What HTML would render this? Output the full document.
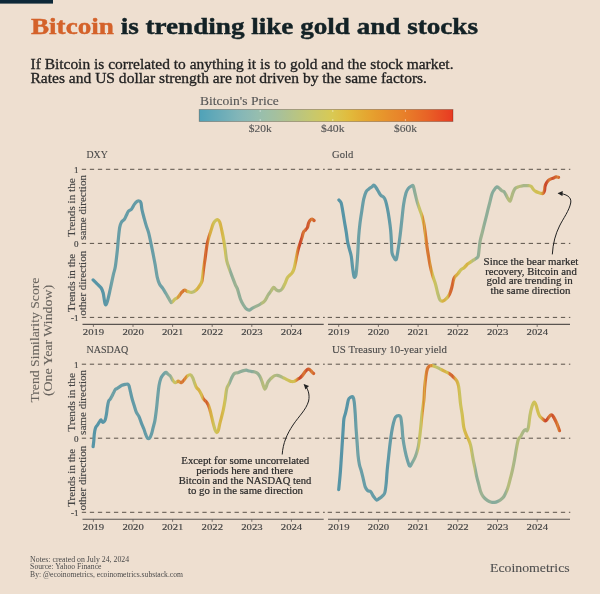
<!DOCTYPE html>
<html><head><meta charset="utf-8">
<style>
html,body{margin:0;padding:0;background:#eedfd0;}
body{width:600px;height:594px;overflow:hidden;}
svg{display:block;}
text{font-family:"Liberation Serif",serif;}
</style></head>
<body>
<svg width="600" height="594" viewBox="0 0 600 594">
<defs>
<linearGradient id="leg" x1="0" y1="0" x2="1" y2="0"><stop offset="0.000" stop-color="#4fa2b8"/><stop offset="0.025" stop-color="#57a5b8"/><stop offset="0.050" stop-color="#60a8b8"/><stop offset="0.075" stop-color="#68abb8"/><stop offset="0.100" stop-color="#70aeb8"/><stop offset="0.125" stop-color="#78b2b8"/><stop offset="0.150" stop-color="#81b5b8"/><stop offset="0.175" stop-color="#88b8b6"/><stop offset="0.200" stop-color="#8ebab3"/><stop offset="0.225" stop-color="#94bdb0"/><stop offset="0.250" stop-color="#9abfab"/><stop offset="0.275" stop-color="#9fc0a5"/><stop offset="0.300" stop-color="#a4c09f"/><stop offset="0.325" stop-color="#aac197"/><stop offset="0.350" stop-color="#b0c28e"/><stop offset="0.375" stop-color="#b6c486"/><stop offset="0.400" stop-color="#bcc57d"/><stop offset="0.425" stop-color="#c2c775"/><stop offset="0.450" stop-color="#c8c86c"/><stop offset="0.475" stop-color="#cec864"/><stop offset="0.500" stop-color="#d3c95c"/><stop offset="0.525" stop-color="#d9c953"/><stop offset="0.550" stop-color="#dcc34b"/><stop offset="0.575" stop-color="#dfbe42"/><stop offset="0.600" stop-color="#e2b83a"/><stop offset="0.625" stop-color="#e3b036"/><stop offset="0.650" stop-color="#e4a932"/><stop offset="0.675" stop-color="#e6a22f"/><stop offset="0.700" stop-color="#e69b2d"/><stop offset="0.725" stop-color="#e7952c"/><stop offset="0.750" stop-color="#e78e2c"/><stop offset="0.775" stop-color="#e8882b"/><stop offset="0.800" stop-color="#e8822a"/><stop offset="0.825" stop-color="#e87a29"/><stop offset="0.850" stop-color="#e87228"/><stop offset="0.875" stop-color="#e86a27"/><stop offset="0.900" stop-color="#e86226"/><stop offset="0.925" stop-color="#e85825"/><stop offset="0.950" stop-color="#e84e24"/><stop offset="0.975" stop-color="#e84423"/><stop offset="1.000" stop-color="#e83a22"/></linearGradient>
<linearGradient id="gl" gradientUnits="userSpaceOnUse" x1="82.0" y1="0" x2="324.0" y2="0"><stop offset="0.0000" stop-color="#5795a6"/><stop offset="0.0025" stop-color="#5795a6"/><stop offset="0.0050" stop-color="#5795a6"/><stop offset="0.0075" stop-color="#5795a6"/><stop offset="0.0100" stop-color="#5795a6"/><stop offset="0.0125" stop-color="#5795a6"/><stop offset="0.0150" stop-color="#5795a6"/><stop offset="0.0175" stop-color="#5795a6"/><stop offset="0.0200" stop-color="#5795a6"/><stop offset="0.0225" stop-color="#5795a6"/><stop offset="0.0250" stop-color="#5795a6"/><stop offset="0.0275" stop-color="#5795a6"/><stop offset="0.0300" stop-color="#5795a6"/><stop offset="0.0325" stop-color="#5795a6"/><stop offset="0.0350" stop-color="#5795a6"/><stop offset="0.0375" stop-color="#5795a6"/><stop offset="0.0400" stop-color="#5795a6"/><stop offset="0.0425" stop-color="#5795a6"/><stop offset="0.0450" stop-color="#5795a6"/><stop offset="0.0475" stop-color="#5795a6"/><stop offset="0.0500" stop-color="#5795a6"/><stop offset="0.0525" stop-color="#5795a6"/><stop offset="0.0550" stop-color="#5795a6"/><stop offset="0.0575" stop-color="#5794a6"/><stop offset="0.0600" stop-color="#5794a6"/><stop offset="0.0625" stop-color="#5794a6"/><stop offset="0.0650" stop-color="#5795a6"/><stop offset="0.0675" stop-color="#5795a6"/><stop offset="0.0700" stop-color="#5895a6"/><stop offset="0.0725" stop-color="#5895a6"/><stop offset="0.0750" stop-color="#5895a6"/><stop offset="0.0775" stop-color="#5895a6"/><stop offset="0.0800" stop-color="#5895a6"/><stop offset="0.0825" stop-color="#5895a6"/><stop offset="0.0850" stop-color="#5895a6"/><stop offset="0.0875" stop-color="#5995a6"/><stop offset="0.0900" stop-color="#5996a6"/><stop offset="0.0925" stop-color="#5a96a6"/><stop offset="0.0950" stop-color="#5b96a6"/><stop offset="0.0975" stop-color="#5b97a6"/><stop offset="0.1000" stop-color="#5c97a6"/><stop offset="0.1025" stop-color="#5e98a6"/><stop offset="0.1050" stop-color="#5f99a6"/><stop offset="0.1075" stop-color="#6199a6"/><stop offset="0.1100" stop-color="#639aa6"/><stop offset="0.1125" stop-color="#649ba6"/><stop offset="0.1150" stop-color="#669ca6"/><stop offset="0.1175" stop-color="#699da6"/><stop offset="0.1200" stop-color="#6d9fa5"/><stop offset="0.1225" stop-color="#71a2a5"/><stop offset="0.1250" stop-color="#76a4a4"/><stop offset="0.1275" stop-color="#6ea0a5"/><stop offset="0.1300" stop-color="#6c9fa6"/><stop offset="0.1325" stop-color="#6c9fa6"/><stop offset="0.1350" stop-color="#6b9fa6"/><stop offset="0.1375" stop-color="#6b9ea6"/><stop offset="0.1400" stop-color="#6a9ea6"/><stop offset="0.1425" stop-color="#6a9ea6"/><stop offset="0.1450" stop-color="#699ea6"/><stop offset="0.1475" stop-color="#699ea6"/><stop offset="0.1500" stop-color="#699da6"/><stop offset="0.1525" stop-color="#699da6"/><stop offset="0.1550" stop-color="#689da6"/><stop offset="0.1575" stop-color="#689da6"/><stop offset="0.1600" stop-color="#679da6"/><stop offset="0.1625" stop-color="#669ca6"/><stop offset="0.1650" stop-color="#669ca6"/><stop offset="0.1675" stop-color="#659ba6"/><stop offset="0.1700" stop-color="#659ba6"/><stop offset="0.1725" stop-color="#659ca6"/><stop offset="0.1750" stop-color="#669ca6"/><stop offset="0.1775" stop-color="#669ca6"/><stop offset="0.1800" stop-color="#679ca6"/><stop offset="0.1825" stop-color="#679da6"/><stop offset="0.1850" stop-color="#669ca6"/><stop offset="0.1875" stop-color="#669ca6"/><stop offset="0.1900" stop-color="#659ba6"/><stop offset="0.1925" stop-color="#649ba6"/><stop offset="0.1950" stop-color="#639ba6"/><stop offset="0.1975" stop-color="#629aa6"/><stop offset="0.2000" stop-color="#629aa6"/><stop offset="0.2025" stop-color="#629aa6"/><stop offset="0.2050" stop-color="#629aa6"/><stop offset="0.2075" stop-color="#629aa6"/><stop offset="0.2100" stop-color="#619aa6"/><stop offset="0.2125" stop-color="#629aa6"/><stop offset="0.2150" stop-color="#649ba6"/><stop offset="0.2175" stop-color="#659ba6"/><stop offset="0.2200" stop-color="#669ca6"/><stop offset="0.2225" stop-color="#679ca6"/><stop offset="0.2250" stop-color="#689da6"/><stop offset="0.2275" stop-color="#699ea6"/><stop offset="0.2300" stop-color="#6a9ea6"/><stop offset="0.2325" stop-color="#699da6"/><stop offset="0.2350" stop-color="#679ca6"/><stop offset="0.2375" stop-color="#659ba6"/><stop offset="0.2400" stop-color="#6099a6"/><stop offset="0.2425" stop-color="#5b97a6"/><stop offset="0.2450" stop-color="#5c97a6"/><stop offset="0.2475" stop-color="#5e98a6"/><stop offset="0.2500" stop-color="#5f98a6"/><stop offset="0.2525" stop-color="#6099a6"/><stop offset="0.2550" stop-color="#619aa6"/><stop offset="0.2575" stop-color="#629aa6"/><stop offset="0.2600" stop-color="#639ba6"/><stop offset="0.2625" stop-color="#659ba6"/><stop offset="0.2650" stop-color="#669ca6"/><stop offset="0.2675" stop-color="#669ca6"/><stop offset="0.2700" stop-color="#669ca6"/><stop offset="0.2725" stop-color="#679ca6"/><stop offset="0.2750" stop-color="#679da6"/><stop offset="0.2775" stop-color="#689da6"/><stop offset="0.2800" stop-color="#689da6"/><stop offset="0.2825" stop-color="#689da6"/><stop offset="0.2850" stop-color="#679da6"/><stop offset="0.2875" stop-color="#679da6"/><stop offset="0.2900" stop-color="#679da6"/><stop offset="0.2925" stop-color="#679da6"/><stop offset="0.2950" stop-color="#689da6"/><stop offset="0.2975" stop-color="#6a9ea6"/><stop offset="0.3000" stop-color="#6b9fa6"/><stop offset="0.3025" stop-color="#6da0a5"/><stop offset="0.3050" stop-color="#6fa1a5"/><stop offset="0.3075" stop-color="#70a1a5"/><stop offset="0.3100" stop-color="#70a1a5"/><stop offset="0.3125" stop-color="#70a1a5"/><stop offset="0.3150" stop-color="#70a1a5"/><stop offset="0.3175" stop-color="#71a1a5"/><stop offset="0.3200" stop-color="#71a1a5"/><stop offset="0.3225" stop-color="#70a1a5"/><stop offset="0.3250" stop-color="#6fa1a5"/><stop offset="0.3275" stop-color="#6fa0a5"/><stop offset="0.3300" stop-color="#6ea0a5"/><stop offset="0.3325" stop-color="#6da0a5"/><stop offset="0.3350" stop-color="#6fa1a5"/><stop offset="0.3375" stop-color="#72a2a4"/><stop offset="0.3400" stop-color="#74a3a4"/><stop offset="0.3425" stop-color="#77a4a3"/><stop offset="0.3450" stop-color="#79a6a3"/><stop offset="0.3475" stop-color="#7da7a2"/><stop offset="0.3500" stop-color="#81a9a0"/><stop offset="0.3525" stop-color="#85aa9d"/><stop offset="0.3550" stop-color="#89ab9a"/><stop offset="0.3575" stop-color="#8cac99"/><stop offset="0.3600" stop-color="#8fad97"/><stop offset="0.3625" stop-color="#90ae97"/><stop offset="0.3650" stop-color="#92ae96"/><stop offset="0.3675" stop-color="#94af95"/><stop offset="0.3700" stop-color="#9fb390"/><stop offset="0.3725" stop-color="#aab786"/><stop offset="0.3750" stop-color="#bebf70"/><stop offset="0.3775" stop-color="#d0c157"/><stop offset="0.3800" stop-color="#ccc15c"/><stop offset="0.3825" stop-color="#c7c264"/><stop offset="0.3850" stop-color="#c1c06c"/><stop offset="0.3875" stop-color="#c5c168"/><stop offset="0.3900" stop-color="#d1c055"/><stop offset="0.3925" stop-color="#d8ad44"/><stop offset="0.3950" stop-color="#da993c"/><stop offset="0.3975" stop-color="#d98637"/><stop offset="0.4000" stop-color="#d8af44"/><stop offset="0.4025" stop-color="#daa23f"/><stop offset="0.4050" stop-color="#d88536"/><stop offset="0.4075" stop-color="#d77633"/><stop offset="0.4100" stop-color="#d77833"/><stop offset="0.4125" stop-color="#d87b34"/><stop offset="0.4150" stop-color="#d87c34"/><stop offset="0.4175" stop-color="#d67332"/><stop offset="0.4200" stop-color="#d46b31"/><stop offset="0.4225" stop-color="#d87e35"/><stop offset="0.4250" stop-color="#da9f3e"/><stop offset="0.4275" stop-color="#d98938"/><stop offset="0.4300" stop-color="#d98f39"/><stop offset="0.4325" stop-color="#da9e3e"/><stop offset="0.4350" stop-color="#d4bc4e"/><stop offset="0.4375" stop-color="#ccc15c"/><stop offset="0.4400" stop-color="#ccc15c"/><stop offset="0.4425" stop-color="#cbc15d"/><stop offset="0.4450" stop-color="#c9c261"/><stop offset="0.4475" stop-color="#c7c264"/><stop offset="0.4500" stop-color="#c4c168"/><stop offset="0.4525" stop-color="#bfbf6e"/><stop offset="0.4550" stop-color="#bdbf70"/><stop offset="0.4575" stop-color="#bcbe73"/><stop offset="0.4600" stop-color="#babd75"/><stop offset="0.4625" stop-color="#b8bc77"/><stop offset="0.4650" stop-color="#bfbf6e"/><stop offset="0.4675" stop-color="#cdc15b"/><stop offset="0.4700" stop-color="#d3bd4f"/><stop offset="0.4725" stop-color="#d5b94a"/><stop offset="0.4750" stop-color="#d7b245"/><stop offset="0.4775" stop-color="#d7b045"/><stop offset="0.4800" stop-color="#d7b045"/><stop offset="0.4825" stop-color="#d7b045"/><stop offset="0.4850" stop-color="#d7b045"/><stop offset="0.4875" stop-color="#d6b647"/><stop offset="0.4900" stop-color="#d4bb4d"/><stop offset="0.4925" stop-color="#d2bf52"/><stop offset="0.4950" stop-color="#d3bc4e"/><stop offset="0.4975" stop-color="#d7b346"/><stop offset="0.5000" stop-color="#da983c"/><stop offset="0.5025" stop-color="#d87e34"/><stop offset="0.5050" stop-color="#d36530"/><stop offset="0.5075" stop-color="#d46830"/><stop offset="0.5100" stop-color="#d67232"/><stop offset="0.5125" stop-color="#d36630"/><stop offset="0.5150" stop-color="#d0592e"/><stop offset="0.5175" stop-color="#d36630"/><stop offset="0.5200" stop-color="#d67232"/><stop offset="0.5225" stop-color="#d87e35"/><stop offset="0.5250" stop-color="#da9c3d"/><stop offset="0.5275" stop-color="#d8a942"/><stop offset="0.5300" stop-color="#d8ac43"/><stop offset="0.5325" stop-color="#d8ae44"/><stop offset="0.5350" stop-color="#d7b045"/><stop offset="0.5375" stop-color="#d7b346"/><stop offset="0.5400" stop-color="#d4ba4c"/><stop offset="0.5425" stop-color="#d1bf53"/><stop offset="0.5450" stop-color="#cdc15a"/><stop offset="0.5475" stop-color="#c9c261"/><stop offset="0.5500" stop-color="#cbc25e"/><stop offset="0.5525" stop-color="#cfc158"/><stop offset="0.5550" stop-color="#d0c155"/><stop offset="0.5575" stop-color="#d1bf53"/><stop offset="0.5600" stop-color="#d2be51"/><stop offset="0.5625" stop-color="#d3bc4e"/><stop offset="0.5650" stop-color="#d4bb4c"/><stop offset="0.5675" stop-color="#d5b94a"/><stop offset="0.5700" stop-color="#d6b848"/><stop offset="0.5725" stop-color="#d6b547"/><stop offset="0.5750" stop-color="#d7b246"/><stop offset="0.5775" stop-color="#d7b246"/><stop offset="0.5800" stop-color="#d6b849"/><stop offset="0.5825" stop-color="#d4bb4d"/><stop offset="0.5850" stop-color="#d2bd50"/><stop offset="0.5875" stop-color="#d1c054"/><stop offset="0.5900" stop-color="#cfc158"/><stop offset="0.5925" stop-color="#cac25f"/><stop offset="0.5950" stop-color="#c0bf6e"/><stop offset="0.5975" stop-color="#b3ba7d"/><stop offset="0.6000" stop-color="#b7bc78"/><stop offset="0.6025" stop-color="#bbbd74"/><stop offset="0.6050" stop-color="#bfbf6f"/><stop offset="0.6075" stop-color="#afb981"/><stop offset="0.6100" stop-color="#a0b38f"/><stop offset="0.6125" stop-color="#91ae96"/><stop offset="0.6150" stop-color="#8ead98"/><stop offset="0.6175" stop-color="#8fad97"/><stop offset="0.6200" stop-color="#90ae97"/><stop offset="0.6225" stop-color="#92ae96"/><stop offset="0.6250" stop-color="#95af95"/><stop offset="0.6275" stop-color="#97b093"/><stop offset="0.6300" stop-color="#99b192"/><stop offset="0.6325" stop-color="#9cb291"/><stop offset="0.6350" stop-color="#9db291"/><stop offset="0.6375" stop-color="#9eb290"/><stop offset="0.6400" stop-color="#9db290"/><stop offset="0.6425" stop-color="#98b093"/><stop offset="0.6450" stop-color="#93ae96"/><stop offset="0.6475" stop-color="#90ad97"/><stop offset="0.6500" stop-color="#90ad97"/><stop offset="0.6525" stop-color="#8fad97"/><stop offset="0.6550" stop-color="#8fad97"/><stop offset="0.6575" stop-color="#8fad97"/><stop offset="0.6600" stop-color="#8ead97"/><stop offset="0.6625" stop-color="#8fad97"/><stop offset="0.6650" stop-color="#8fad97"/><stop offset="0.6675" stop-color="#90ad97"/><stop offset="0.6700" stop-color="#91ae97"/><stop offset="0.6725" stop-color="#91ae96"/><stop offset="0.6750" stop-color="#8ead98"/><stop offset="0.6775" stop-color="#85aa9c"/><stop offset="0.6800" stop-color="#85aa9d"/><stop offset="0.6825" stop-color="#86aa9c"/><stop offset="0.6850" stop-color="#87ab9b"/><stop offset="0.6875" stop-color="#88ab9a"/><stop offset="0.6900" stop-color="#88ab9a"/><stop offset="0.6925" stop-color="#87ab9b"/><stop offset="0.6950" stop-color="#87ab9b"/><stop offset="0.6975" stop-color="#86aa9b"/><stop offset="0.7000" stop-color="#86aa9c"/><stop offset="0.7025" stop-color="#88ab9a"/><stop offset="0.7050" stop-color="#8bac99"/><stop offset="0.7075" stop-color="#8fad97"/><stop offset="0.7100" stop-color="#92ae96"/><stop offset="0.7125" stop-color="#97b094"/><stop offset="0.7150" stop-color="#9bb191"/><stop offset="0.7175" stop-color="#9bb191"/><stop offset="0.7200" stop-color="#9bb191"/><stop offset="0.7225" stop-color="#9bb191"/><stop offset="0.7250" stop-color="#9bb191"/><stop offset="0.7275" stop-color="#9bb191"/><stop offset="0.7300" stop-color="#95af94"/><stop offset="0.7325" stop-color="#91ae96"/><stop offset="0.7350" stop-color="#99b192"/><stop offset="0.7375" stop-color="#a2b48e"/><stop offset="0.7400" stop-color="#abb785"/><stop offset="0.7425" stop-color="#b1ba7f"/><stop offset="0.7450" stop-color="#b5bb7b"/><stop offset="0.7475" stop-color="#b8bd76"/><stop offset="0.7500" stop-color="#b7bc78"/><stop offset="0.7525" stop-color="#b5bb7b"/><stop offset="0.7550" stop-color="#b3ba7d"/><stop offset="0.7575" stop-color="#b1ba7f"/><stop offset="0.7600" stop-color="#b0b980"/><stop offset="0.7625" stop-color="#aeb982"/><stop offset="0.7650" stop-color="#adb883"/><stop offset="0.7675" stop-color="#acb884"/><stop offset="0.7700" stop-color="#a9b787"/><stop offset="0.7725" stop-color="#a6b68a"/><stop offset="0.7750" stop-color="#a3b48d"/><stop offset="0.7775" stop-color="#a9b687"/><stop offset="0.7800" stop-color="#b0b980"/><stop offset="0.7825" stop-color="#b9bd76"/><stop offset="0.7850" stop-color="#b8bc77"/><stop offset="0.7875" stop-color="#b7bc79"/><stop offset="0.7900" stop-color="#b5bb7a"/><stop offset="0.7925" stop-color="#b4bb7b"/><stop offset="0.7950" stop-color="#b3ba7d"/><stop offset="0.7975" stop-color="#b1ba7f"/><stop offset="0.8000" stop-color="#afb981"/><stop offset="0.8025" stop-color="#adb883"/><stop offset="0.8050" stop-color="#abb785"/><stop offset="0.8075" stop-color="#a9b687"/><stop offset="0.8100" stop-color="#a6b68a"/><stop offset="0.8125" stop-color="#a7b689"/><stop offset="0.8150" stop-color="#a8b688"/><stop offset="0.8175" stop-color="#a8b688"/><stop offset="0.8200" stop-color="#a9b787"/><stop offset="0.8225" stop-color="#aab786"/><stop offset="0.8250" stop-color="#adb883"/><stop offset="0.8275" stop-color="#b3ba7d"/><stop offset="0.8300" stop-color="#b9bd75"/><stop offset="0.8325" stop-color="#c0c06d"/><stop offset="0.8350" stop-color="#c6c266"/><stop offset="0.8375" stop-color="#c8c262"/><stop offset="0.8400" stop-color="#c9c261"/><stop offset="0.8425" stop-color="#cac25f"/><stop offset="0.8450" stop-color="#cbc25e"/><stop offset="0.8475" stop-color="#ccc15d"/><stop offset="0.8500" stop-color="#cdc15b"/><stop offset="0.8525" stop-color="#cec159"/><stop offset="0.8550" stop-color="#cfc157"/><stop offset="0.8575" stop-color="#d0c055"/><stop offset="0.8600" stop-color="#d1bf53"/><stop offset="0.8625" stop-color="#d2be51"/><stop offset="0.8650" stop-color="#d3bd4f"/><stop offset="0.8675" stop-color="#d2be51"/><stop offset="0.8700" stop-color="#d1bf53"/><stop offset="0.8725" stop-color="#d1c054"/><stop offset="0.8750" stop-color="#d0c156"/><stop offset="0.8775" stop-color="#d2be51"/><stop offset="0.8800" stop-color="#d5b949"/><stop offset="0.8825" stop-color="#d8aa42"/><stop offset="0.8850" stop-color="#da9a3c"/><stop offset="0.8875" stop-color="#d98b38"/><stop offset="0.8900" stop-color="#d87d34"/><stop offset="0.8925" stop-color="#d56d31"/><stop offset="0.8950" stop-color="#d05a2e"/><stop offset="0.8975" stop-color="#ca482c"/><stop offset="0.9000" stop-color="#ca472c"/><stop offset="0.9025" stop-color="#ca492c"/><stop offset="0.9050" stop-color="#cb4c2d"/><stop offset="0.9075" stop-color="#cf562e"/><stop offset="0.9100" stop-color="#d36430"/><stop offset="0.9125" stop-color="#d67132"/><stop offset="0.9150" stop-color="#d67533"/><stop offset="0.9175" stop-color="#d77633"/><stop offset="0.9200" stop-color="#d67132"/><stop offset="0.9225" stop-color="#d36630"/><stop offset="0.9250" stop-color="#d05a2e"/><stop offset="0.9275" stop-color="#cc4f2d"/><stop offset="0.9300" stop-color="#ce532e"/><stop offset="0.9325" stop-color="#d05a2e"/><stop offset="0.9350" stop-color="#d15e2f"/><stop offset="0.9375" stop-color="#d2612f"/><stop offset="0.9400" stop-color="#d36530"/><stop offset="0.9425" stop-color="#d46830"/><stop offset="0.9450" stop-color="#d56c31"/><stop offset="0.9475" stop-color="#d87c34"/><stop offset="0.9500" stop-color="#d88236"/><stop offset="0.9525" stop-color="#d77633"/><stop offset="0.9550" stop-color="#d46a31"/><stop offset="0.9575" stop-color="#d2602f"/><stop offset="0.9600" stop-color="#d2602f"/><stop offset="0.9625" stop-color="#d2602f"/><stop offset="0.9650" stop-color="#d2602f"/><stop offset="0.9675" stop-color="#d2602f"/><stop offset="0.9700" stop-color="#d2602f"/><stop offset="0.9725" stop-color="#d2602f"/><stop offset="0.9750" stop-color="#d2602f"/><stop offset="0.9775" stop-color="#d2602f"/><stop offset="0.9800" stop-color="#d2602f"/><stop offset="0.9825" stop-color="#d2602f"/><stop offset="0.9850" stop-color="#d2602f"/><stop offset="0.9875" stop-color="#d2602f"/><stop offset="0.9900" stop-color="#d2602f"/><stop offset="0.9925" stop-color="#d2602f"/><stop offset="0.9950" stop-color="#d2602f"/><stop offset="0.9975" stop-color="#d2602f"/><stop offset="1.0000" stop-color="#d2602f"/></linearGradient>
<linearGradient id="gr" gradientUnits="userSpaceOnUse" x1="328.0" y1="0" x2="570.0" y2="0"><stop offset="0.0000" stop-color="#5795a6"/><stop offset="0.0025" stop-color="#5795a6"/><stop offset="0.0050" stop-color="#5795a6"/><stop offset="0.0075" stop-color="#5795a6"/><stop offset="0.0100" stop-color="#5795a6"/><stop offset="0.0125" stop-color="#5795a6"/><stop offset="0.0150" stop-color="#5795a6"/><stop offset="0.0175" stop-color="#5795a6"/><stop offset="0.0200" stop-color="#5795a6"/><stop offset="0.0225" stop-color="#5795a6"/><stop offset="0.0250" stop-color="#5795a6"/><stop offset="0.0275" stop-color="#5795a6"/><stop offset="0.0300" stop-color="#5795a6"/><stop offset="0.0325" stop-color="#5795a6"/><stop offset="0.0350" stop-color="#5795a6"/><stop offset="0.0375" stop-color="#5795a6"/><stop offset="0.0400" stop-color="#5795a6"/><stop offset="0.0425" stop-color="#5795a6"/><stop offset="0.0450" stop-color="#5795a6"/><stop offset="0.0475" stop-color="#5795a6"/><stop offset="0.0500" stop-color="#5795a6"/><stop offset="0.0525" stop-color="#5794a6"/><stop offset="0.0550" stop-color="#5794a6"/><stop offset="0.0575" stop-color="#5794a6"/><stop offset="0.0600" stop-color="#5794a6"/><stop offset="0.0625" stop-color="#5795a6"/><stop offset="0.0650" stop-color="#5795a6"/><stop offset="0.0675" stop-color="#5895a6"/><stop offset="0.0700" stop-color="#5895a6"/><stop offset="0.0725" stop-color="#5895a6"/><stop offset="0.0750" stop-color="#5895a6"/><stop offset="0.0775" stop-color="#5895a6"/><stop offset="0.0800" stop-color="#5895a6"/><stop offset="0.0825" stop-color="#5895a6"/><stop offset="0.0850" stop-color="#5995a6"/><stop offset="0.0875" stop-color="#5996a6"/><stop offset="0.0900" stop-color="#5a96a6"/><stop offset="0.0925" stop-color="#5b96a6"/><stop offset="0.0950" stop-color="#5b97a6"/><stop offset="0.0975" stop-color="#5c97a6"/><stop offset="0.1000" stop-color="#5e98a6"/><stop offset="0.1025" stop-color="#5f99a6"/><stop offset="0.1050" stop-color="#619aa6"/><stop offset="0.1075" stop-color="#639aa6"/><stop offset="0.1100" stop-color="#649ba6"/><stop offset="0.1125" stop-color="#669ca6"/><stop offset="0.1150" stop-color="#699ea6"/><stop offset="0.1175" stop-color="#6d9fa5"/><stop offset="0.1200" stop-color="#71a2a5"/><stop offset="0.1225" stop-color="#76a4a4"/><stop offset="0.1250" stop-color="#6da0a5"/><stop offset="0.1275" stop-color="#6c9fa6"/><stop offset="0.1300" stop-color="#6c9fa6"/><stop offset="0.1325" stop-color="#6b9fa6"/><stop offset="0.1350" stop-color="#6b9ea6"/><stop offset="0.1375" stop-color="#6a9ea6"/><stop offset="0.1400" stop-color="#6a9ea6"/><stop offset="0.1425" stop-color="#699ea6"/><stop offset="0.1450" stop-color="#699ea6"/><stop offset="0.1475" stop-color="#699da6"/><stop offset="0.1500" stop-color="#699da6"/><stop offset="0.1525" stop-color="#689da6"/><stop offset="0.1550" stop-color="#689da6"/><stop offset="0.1575" stop-color="#679da6"/><stop offset="0.1600" stop-color="#669ca6"/><stop offset="0.1625" stop-color="#669ca6"/><stop offset="0.1650" stop-color="#659ba6"/><stop offset="0.1675" stop-color="#659ba6"/><stop offset="0.1700" stop-color="#659ca6"/><stop offset="0.1725" stop-color="#669ca6"/><stop offset="0.1750" stop-color="#669ca6"/><stop offset="0.1775" stop-color="#679ca6"/><stop offset="0.1800" stop-color="#679da6"/><stop offset="0.1825" stop-color="#669ca6"/><stop offset="0.1850" stop-color="#669ca6"/><stop offset="0.1875" stop-color="#659ba6"/><stop offset="0.1900" stop-color="#649ba6"/><stop offset="0.1925" stop-color="#639ba6"/><stop offset="0.1950" stop-color="#629aa6"/><stop offset="0.1975" stop-color="#629aa6"/><stop offset="0.2000" stop-color="#629aa6"/><stop offset="0.2025" stop-color="#629aa6"/><stop offset="0.2050" stop-color="#629aa6"/><stop offset="0.2075" stop-color="#619aa6"/><stop offset="0.2100" stop-color="#629aa6"/><stop offset="0.2125" stop-color="#649ba6"/><stop offset="0.2150" stop-color="#659ba6"/><stop offset="0.2175" stop-color="#669ca6"/><stop offset="0.2200" stop-color="#679ca6"/><stop offset="0.2225" stop-color="#689da6"/><stop offset="0.2250" stop-color="#699ea6"/><stop offset="0.2275" stop-color="#6a9ea6"/><stop offset="0.2300" stop-color="#699da6"/><stop offset="0.2325" stop-color="#679da6"/><stop offset="0.2350" stop-color="#659ba6"/><stop offset="0.2375" stop-color="#6099a6"/><stop offset="0.2400" stop-color="#5b97a6"/><stop offset="0.2425" stop-color="#5c97a6"/><stop offset="0.2450" stop-color="#5d98a6"/><stop offset="0.2475" stop-color="#5f98a6"/><stop offset="0.2500" stop-color="#6099a6"/><stop offset="0.2525" stop-color="#6199a6"/><stop offset="0.2550" stop-color="#629aa6"/><stop offset="0.2575" stop-color="#639ba6"/><stop offset="0.2600" stop-color="#649ba6"/><stop offset="0.2625" stop-color="#669ca6"/><stop offset="0.2650" stop-color="#669ca6"/><stop offset="0.2675" stop-color="#669ca6"/><stop offset="0.2700" stop-color="#679ca6"/><stop offset="0.2725" stop-color="#679da6"/><stop offset="0.2750" stop-color="#689da6"/><stop offset="0.2775" stop-color="#689da6"/><stop offset="0.2800" stop-color="#689da6"/><stop offset="0.2825" stop-color="#679da6"/><stop offset="0.2850" stop-color="#679da6"/><stop offset="0.2875" stop-color="#679da6"/><stop offset="0.2900" stop-color="#679da6"/><stop offset="0.2925" stop-color="#689da6"/><stop offset="0.2950" stop-color="#6a9ea6"/><stop offset="0.2975" stop-color="#6b9fa6"/><stop offset="0.3000" stop-color="#6d9fa5"/><stop offset="0.3025" stop-color="#6fa0a5"/><stop offset="0.3050" stop-color="#70a1a5"/><stop offset="0.3075" stop-color="#70a1a5"/><stop offset="0.3100" stop-color="#70a1a5"/><stop offset="0.3125" stop-color="#70a1a5"/><stop offset="0.3150" stop-color="#71a1a5"/><stop offset="0.3175" stop-color="#71a1a5"/><stop offset="0.3200" stop-color="#70a1a5"/><stop offset="0.3225" stop-color="#6fa1a5"/><stop offset="0.3250" stop-color="#6fa0a5"/><stop offset="0.3275" stop-color="#6ea0a5"/><stop offset="0.3300" stop-color="#6da0a5"/><stop offset="0.3325" stop-color="#6fa0a5"/><stop offset="0.3350" stop-color="#71a2a5"/><stop offset="0.3375" stop-color="#74a3a4"/><stop offset="0.3400" stop-color="#76a4a4"/><stop offset="0.3425" stop-color="#79a5a3"/><stop offset="0.3450" stop-color="#7ca7a2"/><stop offset="0.3475" stop-color="#80a9a0"/><stop offset="0.3500" stop-color="#84aa9d"/><stop offset="0.3525" stop-color="#88ab9a"/><stop offset="0.3550" stop-color="#8bac99"/><stop offset="0.3575" stop-color="#8ead97"/><stop offset="0.3600" stop-color="#90ad97"/><stop offset="0.3625" stop-color="#91ae96"/><stop offset="0.3650" stop-color="#93ae96"/><stop offset="0.3675" stop-color="#9db291"/><stop offset="0.3700" stop-color="#a8b688"/><stop offset="0.3725" stop-color="#b8bc77"/><stop offset="0.3750" stop-color="#cdc15a"/><stop offset="0.3775" stop-color="#cdc15b"/><stop offset="0.3800" stop-color="#c8c263"/><stop offset="0.3825" stop-color="#c1c06c"/><stop offset="0.3850" stop-color="#c4c168"/><stop offset="0.3875" stop-color="#cec159"/><stop offset="0.3900" stop-color="#d7b145"/><stop offset="0.3925" stop-color="#da9d3d"/><stop offset="0.3950" stop-color="#d98938"/><stop offset="0.3975" stop-color="#d9a741"/><stop offset="0.4000" stop-color="#d9a841"/><stop offset="0.4025" stop-color="#d98b38"/><stop offset="0.4050" stop-color="#d77533"/><stop offset="0.4075" stop-color="#d77833"/><stop offset="0.4100" stop-color="#d87b34"/><stop offset="0.4125" stop-color="#d87d34"/><stop offset="0.4150" stop-color="#d77533"/><stop offset="0.4175" stop-color="#d56d31"/><stop offset="0.4200" stop-color="#d77733"/><stop offset="0.4225" stop-color="#da973c"/><stop offset="0.4250" stop-color="#d9923a"/><stop offset="0.4275" stop-color="#d98b38"/><stop offset="0.4300" stop-color="#da9b3d"/><stop offset="0.4325" stop-color="#d6b748"/><stop offset="0.4350" stop-color="#ccc15c"/><stop offset="0.4375" stop-color="#ccc15c"/><stop offset="0.4400" stop-color="#ccc15d"/><stop offset="0.4425" stop-color="#cac260"/><stop offset="0.4450" stop-color="#c8c263"/><stop offset="0.4475" stop-color="#c6c267"/><stop offset="0.4500" stop-color="#c0c06d"/><stop offset="0.4525" stop-color="#bebf70"/><stop offset="0.4550" stop-color="#bcbe72"/><stop offset="0.4575" stop-color="#babd74"/><stop offset="0.4600" stop-color="#b8bd76"/><stop offset="0.4625" stop-color="#b8bc77"/><stop offset="0.4650" stop-color="#cbc25f"/><stop offset="0.4675" stop-color="#d2be51"/><stop offset="0.4700" stop-color="#d5ba4b"/><stop offset="0.4725" stop-color="#d7b446"/><stop offset="0.4750" stop-color="#d7b045"/><stop offset="0.4775" stop-color="#d7b045"/><stop offset="0.4800" stop-color="#d7b045"/><stop offset="0.4825" stop-color="#d7b045"/><stop offset="0.4850" stop-color="#d7b346"/><stop offset="0.4875" stop-color="#d5ba4b"/><stop offset="0.4900" stop-color="#d2be51"/><stop offset="0.4925" stop-color="#d3bd4f"/><stop offset="0.4950" stop-color="#d5b94a"/><stop offset="0.4975" stop-color="#daa03e"/><stop offset="0.5000" stop-color="#d98637"/><stop offset="0.5025" stop-color="#d56c31"/><stop offset="0.5050" stop-color="#d36530"/><stop offset="0.5075" stop-color="#d56f32"/><stop offset="0.5100" stop-color="#d46b31"/><stop offset="0.5125" stop-color="#d15c2f"/><stop offset="0.5150" stop-color="#d2622f"/><stop offset="0.5175" stop-color="#d56e31"/><stop offset="0.5200" stop-color="#d87a34"/><stop offset="0.5225" stop-color="#d98d39"/><stop offset="0.5250" stop-color="#d9a842"/><stop offset="0.5275" stop-color="#d8ab43"/><stop offset="0.5300" stop-color="#d8ad44"/><stop offset="0.5325" stop-color="#d7b045"/><stop offset="0.5350" stop-color="#d7b246"/><stop offset="0.5375" stop-color="#d5b949"/><stop offset="0.5400" stop-color="#d2bd50"/><stop offset="0.5425" stop-color="#cfc158"/><stop offset="0.5450" stop-color="#cac25f"/><stop offset="0.5475" stop-color="#c9c262"/><stop offset="0.5500" stop-color="#cec159"/><stop offset="0.5525" stop-color="#d0c156"/><stop offset="0.5550" stop-color="#d1c054"/><stop offset="0.5575" stop-color="#d2be52"/><stop offset="0.5600" stop-color="#d3bd4f"/><stop offset="0.5625" stop-color="#d4bb4d"/><stop offset="0.5650" stop-color="#d5ba4b"/><stop offset="0.5675" stop-color="#d6b949"/><stop offset="0.5700" stop-color="#d6b747"/><stop offset="0.5725" stop-color="#d7b346"/><stop offset="0.5750" stop-color="#d7b045"/><stop offset="0.5775" stop-color="#d6b647"/><stop offset="0.5800" stop-color="#d5ba4b"/><stop offset="0.5825" stop-color="#d3bc4f"/><stop offset="0.5850" stop-color="#d1bf53"/><stop offset="0.5875" stop-color="#cfc157"/><stop offset="0.5900" stop-color="#cdc15b"/><stop offset="0.5925" stop-color="#c6c265"/><stop offset="0.5950" stop-color="#b4bb7b"/><stop offset="0.5975" stop-color="#b5bb7a"/><stop offset="0.6000" stop-color="#b9bd76"/><stop offset="0.6025" stop-color="#bdbe71"/><stop offset="0.6050" stop-color="#b6bc79"/><stop offset="0.6075" stop-color="#a6b68a"/><stop offset="0.6100" stop-color="#97b093"/><stop offset="0.6125" stop-color="#8dad98"/><stop offset="0.6150" stop-color="#8fad97"/><stop offset="0.6175" stop-color="#90ad97"/><stop offset="0.6200" stop-color="#91ae96"/><stop offset="0.6225" stop-color="#94af95"/><stop offset="0.6250" stop-color="#96b094"/><stop offset="0.6275" stop-color="#98b093"/><stop offset="0.6300" stop-color="#9bb192"/><stop offset="0.6325" stop-color="#9db291"/><stop offset="0.6350" stop-color="#9eb290"/><stop offset="0.6375" stop-color="#9eb390"/><stop offset="0.6400" stop-color="#9ab192"/><stop offset="0.6425" stop-color="#95af94"/><stop offset="0.6450" stop-color="#90ae97"/><stop offset="0.6475" stop-color="#90ad97"/><stop offset="0.6500" stop-color="#8fad97"/><stop offset="0.6525" stop-color="#8fad97"/><stop offset="0.6550" stop-color="#8fad97"/><stop offset="0.6575" stop-color="#8ead97"/><stop offset="0.6600" stop-color="#8fad97"/><stop offset="0.6625" stop-color="#8fad97"/><stop offset="0.6650" stop-color="#90ad97"/><stop offset="0.6675" stop-color="#90ae97"/><stop offset="0.6700" stop-color="#91ae96"/><stop offset="0.6725" stop-color="#91ae96"/><stop offset="0.6750" stop-color="#8aac99"/><stop offset="0.6775" stop-color="#84aa9d"/><stop offset="0.6800" stop-color="#85aa9c"/><stop offset="0.6825" stop-color="#86ab9b"/><stop offset="0.6850" stop-color="#88ab9a"/><stop offset="0.6875" stop-color="#88ab9a"/><stop offset="0.6900" stop-color="#87ab9b"/><stop offset="0.6925" stop-color="#87ab9b"/><stop offset="0.6950" stop-color="#86ab9b"/><stop offset="0.6975" stop-color="#86aa9c"/><stop offset="0.7000" stop-color="#86aa9c"/><stop offset="0.7025" stop-color="#89ab99"/><stop offset="0.7050" stop-color="#8dac98"/><stop offset="0.7075" stop-color="#90ad97"/><stop offset="0.7100" stop-color="#94af95"/><stop offset="0.7125" stop-color="#99b193"/><stop offset="0.7150" stop-color="#9bb191"/><stop offset="0.7175" stop-color="#9bb191"/><stop offset="0.7200" stop-color="#9bb191"/><stop offset="0.7225" stop-color="#9bb191"/><stop offset="0.7250" stop-color="#9bb191"/><stop offset="0.7275" stop-color="#99b093"/><stop offset="0.7300" stop-color="#92ae96"/><stop offset="0.7325" stop-color="#95af95"/><stop offset="0.7350" stop-color="#9db290"/><stop offset="0.7375" stop-color="#a6b58a"/><stop offset="0.7400" stop-color="#afb981"/><stop offset="0.7425" stop-color="#b3ba7d"/><stop offset="0.7450" stop-color="#b6bc79"/><stop offset="0.7475" stop-color="#b8bc77"/><stop offset="0.7500" stop-color="#b6bc79"/><stop offset="0.7525" stop-color="#b4bb7c"/><stop offset="0.7550" stop-color="#b2ba7e"/><stop offset="0.7575" stop-color="#b1b97f"/><stop offset="0.7600" stop-color="#afb981"/><stop offset="0.7625" stop-color="#aeb882"/><stop offset="0.7650" stop-color="#acb884"/><stop offset="0.7675" stop-color="#abb785"/><stop offset="0.7700" stop-color="#a8b688"/><stop offset="0.7725" stop-color="#a5b58b"/><stop offset="0.7750" stop-color="#a4b58c"/><stop offset="0.7775" stop-color="#acb884"/><stop offset="0.7800" stop-color="#b4bb7c"/><stop offset="0.7825" stop-color="#b8bd76"/><stop offset="0.7850" stop-color="#b7bc78"/><stop offset="0.7875" stop-color="#b6bc79"/><stop offset="0.7900" stop-color="#b5bb7a"/><stop offset="0.7925" stop-color="#b4bb7c"/><stop offset="0.7950" stop-color="#b3ba7d"/><stop offset="0.7975" stop-color="#b0b980"/><stop offset="0.8000" stop-color="#aeb982"/><stop offset="0.8025" stop-color="#acb884"/><stop offset="0.8050" stop-color="#aab786"/><stop offset="0.8075" stop-color="#a8b688"/><stop offset="0.8100" stop-color="#a7b689"/><stop offset="0.8125" stop-color="#a7b689"/><stop offset="0.8150" stop-color="#a8b688"/><stop offset="0.8175" stop-color="#a9b787"/><stop offset="0.8200" stop-color="#a9b787"/><stop offset="0.8225" stop-color="#aab786"/><stop offset="0.8250" stop-color="#afb981"/><stop offset="0.8275" stop-color="#b5bb7a"/><stop offset="0.8300" stop-color="#bcbe72"/><stop offset="0.8325" stop-color="#c2c16a"/><stop offset="0.8350" stop-color="#c7c264"/><stop offset="0.8375" stop-color="#c9c262"/><stop offset="0.8400" stop-color="#cac260"/><stop offset="0.8425" stop-color="#cac25f"/><stop offset="0.8450" stop-color="#cbc15e"/><stop offset="0.8475" stop-color="#ccc15c"/><stop offset="0.8500" stop-color="#cdc15b"/><stop offset="0.8525" stop-color="#cec159"/><stop offset="0.8550" stop-color="#d0c156"/><stop offset="0.8575" stop-color="#d1c054"/><stop offset="0.8600" stop-color="#d2bf52"/><stop offset="0.8625" stop-color="#d2bd50"/><stop offset="0.8650" stop-color="#d3bd50"/><stop offset="0.8675" stop-color="#d2be52"/><stop offset="0.8700" stop-color="#d1bf53"/><stop offset="0.8725" stop-color="#d0c055"/><stop offset="0.8750" stop-color="#d1c054"/><stop offset="0.8775" stop-color="#d3bd4f"/><stop offset="0.8800" stop-color="#d7b547"/><stop offset="0.8825" stop-color="#d9a540"/><stop offset="0.8850" stop-color="#d9953b"/><stop offset="0.8875" stop-color="#d98737"/><stop offset="0.8900" stop-color="#d77833"/><stop offset="0.8925" stop-color="#d46730"/><stop offset="0.8950" stop-color="#ce552e"/><stop offset="0.8975" stop-color="#c9462c"/><stop offset="0.9000" stop-color="#ca482c"/><stop offset="0.9025" stop-color="#cb4a2d"/><stop offset="0.9050" stop-color="#cc4d2d"/><stop offset="0.9075" stop-color="#d05a2e"/><stop offset="0.9100" stop-color="#d46730"/><stop offset="0.9125" stop-color="#d67433"/><stop offset="0.9150" stop-color="#d77533"/><stop offset="0.9175" stop-color="#d77633"/><stop offset="0.9200" stop-color="#d56e31"/><stop offset="0.9225" stop-color="#d3622f"/><stop offset="0.9250" stop-color="#cf572e"/><stop offset="0.9275" stop-color="#cc4e2d"/><stop offset="0.9300" stop-color="#ce552e"/><stop offset="0.9325" stop-color="#d05b2e"/><stop offset="0.9350" stop-color="#d25f2f"/><stop offset="0.9375" stop-color="#d2622f"/><stop offset="0.9400" stop-color="#d36630"/><stop offset="0.9425" stop-color="#d46931"/><stop offset="0.9450" stop-color="#d56d31"/><stop offset="0.9475" stop-color="#d88436"/><stop offset="0.9500" stop-color="#d87f35"/><stop offset="0.9525" stop-color="#d67332"/><stop offset="0.9550" stop-color="#d46730"/><stop offset="0.9575" stop-color="#d2602f"/><stop offset="0.9600" stop-color="#d2602f"/><stop offset="0.9625" stop-color="#d2602f"/><stop offset="0.9650" stop-color="#d2602f"/><stop offset="0.9675" stop-color="#d2602f"/><stop offset="0.9700" stop-color="#d2602f"/><stop offset="0.9725" stop-color="#d2602f"/><stop offset="0.9750" stop-color="#d2602f"/><stop offset="0.9775" stop-color="#d2602f"/><stop offset="0.9800" stop-color="#d2602f"/><stop offset="0.9825" stop-color="#d2602f"/><stop offset="0.9850" stop-color="#d2602f"/><stop offset="0.9875" stop-color="#d2602f"/><stop offset="0.9900" stop-color="#d2602f"/><stop offset="0.9925" stop-color="#d2602f"/><stop offset="0.9950" stop-color="#d2602f"/><stop offset="0.9975" stop-color="#d2602f"/><stop offset="1.0000" stop-color="#d2602f"/></linearGradient>
<marker id="ah" viewBox="0 0 10 10" refX="8" refY="5" markerWidth="5.5" markerHeight="5" orient="auto-start-reverse"><path d="M0,0 L10,5 L0,10 z" fill="#222"/></marker>
</defs>
<rect x="0" y="0" width="600" height="594" fill="#eedfd0"/>
<rect x="0" y="0" width="53" height="3.6" fill="#0d2838"/>
<text x="31" y="33.5" font-size="24" font-weight="bold" fill="#132226" stroke="#132226" stroke-width="0.45" textLength="447" lengthAdjust="spacingAndGlyphs"><tspan fill="#d4622a" stroke="#d4622a">Bitcoin</tspan> is trending like gold and stocks</text>
<text x="30.5" y="68.5" font-size="14.5" fill="#222" stroke="#222" stroke-width="0.3" textLength="423" lengthAdjust="spacingAndGlyphs">If Bitcoin is correlated to anything it is to gold and the stock market.</text>
<text x="30.5" y="83.3" font-size="14.5" fill="#222" stroke="#222" stroke-width="0.3" textLength="396.5" lengthAdjust="spacingAndGlyphs">Rates and US dollar strength are not driven by the same factors.</text>
<text x="200.00" y="104.80" font-size="11.5" fill="#555" stroke="#555" stroke-width="0.1" textLength="78.70" lengthAdjust="spacingAndGlyphs">Bitcoin's Price</text>
<rect x="199.2" y="109.5" width="253.8" height="12" fill="url(#leg)" stroke="rgba(40,20,10,0.35)" stroke-width="0.8"/>
<line x1="260.2" y1="110" x2="260.2" y2="112" stroke="rgba(255,255,255,0.55)" stroke-width="0.8"/><line x1="260.2" y1="119" x2="260.2" y2="121" stroke="rgba(255,255,255,0.55)" stroke-width="0.8"/>
<line x1="332.8" y1="110" x2="332.8" y2="112" stroke="rgba(255,255,255,0.55)" stroke-width="0.8"/><line x1="332.8" y1="119" x2="332.8" y2="121" stroke="rgba(255,255,255,0.55)" stroke-width="0.8"/>
<line x1="405.4" y1="110" x2="405.4" y2="112" stroke="rgba(255,255,255,0.55)" stroke-width="0.8"/><line x1="405.4" y1="119" x2="405.4" y2="121" stroke="rgba(255,255,255,0.55)" stroke-width="0.8"/>
<text x="248.70" y="132.30" font-size="9.8" fill="#555" stroke="#555" stroke-width="0.1" textLength="23.00" lengthAdjust="spacingAndGlyphs">$20k</text>
<text x="321.00" y="132.30" font-size="9.8" fill="#555" stroke="#555" stroke-width="0.1" textLength="23.50" lengthAdjust="spacingAndGlyphs">$40k</text>
<text x="394.00" y="132.30" font-size="9.8" fill="#555" stroke="#555" stroke-width="0.1" textLength="23.00" lengthAdjust="spacingAndGlyphs">$60k</text>
<text x="86.50" y="158.10" font-size="11" fill="#484848" stroke="#484848" stroke-width="0.1" textLength="21.30" lengthAdjust="spacingAndGlyphs">DXY</text>
<line x1="81.8" y1="169.3" x2="324.8" y2="169.3" stroke="#5a5249" stroke-width="1" stroke-dasharray="4.3 3.74"/>
<line x1="81.8" y1="243.4" x2="324.8" y2="243.4" stroke="#5a5249" stroke-width="1" stroke-dasharray="4.3 3.74"/>
<line x1="81.8" y1="317.4" x2="324.8" y2="317.4" stroke="#5a5249" stroke-width="1" stroke-dasharray="4.3 3.74"/>
<line x1="82.5" y1="324.4" x2="323.7" y2="324.4" stroke="#5a5450" stroke-width="1.1"/>
<line x1="93.4" y1="324.4" x2="93.4" y2="326.9" stroke="#5a5450" stroke-width="0.8"/>
<text x="82.80" y="335.30" font-size="8.6" fill="#444" stroke="#444" stroke-width="0.15" textLength="21.40" lengthAdjust="spacingAndGlyphs">2019</text>
<line x1="133.0" y1="324.4" x2="133.0" y2="326.9" stroke="#5a5450" stroke-width="0.8"/>
<text x="122.40" y="335.30" font-size="8.6" fill="#444" stroke="#444" stroke-width="0.15" textLength="21.40" lengthAdjust="spacingAndGlyphs">2020</text>
<line x1="172.6" y1="324.4" x2="172.6" y2="326.9" stroke="#5a5450" stroke-width="0.8"/>
<text x="162.00" y="335.30" font-size="8.6" fill="#444" stroke="#444" stroke-width="0.15" textLength="21.40" lengthAdjust="spacingAndGlyphs">2021</text>
<line x1="212.2" y1="324.4" x2="212.2" y2="326.9" stroke="#5a5450" stroke-width="0.8"/>
<text x="201.60" y="335.30" font-size="8.6" fill="#444" stroke="#444" stroke-width="0.15" textLength="21.40" lengthAdjust="spacingAndGlyphs">2022</text>
<line x1="251.8" y1="324.4" x2="251.8" y2="326.9" stroke="#5a5450" stroke-width="0.8"/>
<text x="241.20" y="335.30" font-size="8.6" fill="#444" stroke="#444" stroke-width="0.15" textLength="21.40" lengthAdjust="spacingAndGlyphs">2023</text>
<line x1="291.4" y1="324.4" x2="291.4" y2="326.9" stroke="#5a5450" stroke-width="0.8"/>
<text x="280.80" y="335.30" font-size="8.6" fill="#444" stroke="#444" stroke-width="0.15" textLength="21.40" lengthAdjust="spacingAndGlyphs">2024</text>
<text x="78.5" y="172.9" font-size="9" fill="#444" stroke="#444" stroke-width="0.2" text-anchor="end">1</text>
<text x="78.5" y="247.0" font-size="9" fill="#444" stroke="#444" stroke-width="0.2" text-anchor="end">0</text>
<text x="78.5" y="321.0" font-size="9" fill="#444" stroke="#444" stroke-width="0.2" text-anchor="end">-1</text>
<text transform="translate(74.60,207.55) rotate(-90)" font-size="10" fill="#444" stroke="#444" stroke-width="0.15" text-anchor="middle" textLength="58.70" lengthAdjust="spacingAndGlyphs">Trends in the</text>
<text transform="translate(86.00,207.50) rotate(-90)" font-size="10" fill="#444" stroke="#444" stroke-width="0.15" text-anchor="middle" textLength="65.00" lengthAdjust="spacingAndGlyphs">same direction</text>
<text transform="translate(74.60,282.85) rotate(-90)" font-size="10" fill="#444" stroke="#444" stroke-width="0.15" text-anchor="middle" textLength="58.10" lengthAdjust="spacingAndGlyphs">Trends in the</text>
<text transform="translate(86.20,283.20) rotate(-90)" font-size="10" fill="#444" stroke="#444" stroke-width="0.15" text-anchor="middle" textLength="65.00" lengthAdjust="spacingAndGlyphs">other direction</text>
<path d="M93.10,279.90 C93.77,280.57 95.75,282.55 97.10,283.90 C98.45,285.25 100.18,286.48 101.20,288.00 C102.22,289.52 102.53,290.32 103.20,293.00 C103.87,295.68 104.53,302.60 105.20,304.10 C105.87,305.60 106.35,304.52 107.20,302.00 C108.05,299.48 109.28,293.53 110.30,289.00 C111.32,284.47 112.47,278.50 113.30,274.80 C114.13,271.10 114.63,270.83 115.30,266.80 C115.97,262.77 116.80,255.15 117.30,250.60 C117.80,246.05 117.90,243.37 118.30,239.50 C118.70,235.63 119.18,230.27 119.70,227.40 C120.22,224.53 120.62,223.65 121.40,222.30 C122.18,220.95 123.57,220.47 124.40,219.30 C125.23,218.13 125.73,216.65 126.40,215.30 C127.07,213.95 127.55,212.22 128.40,211.20 C129.25,210.18 130.48,210.38 131.50,209.20 C132.52,208.02 133.50,205.45 134.50,204.10 C135.50,202.75 136.67,201.60 137.50,201.10 C138.33,200.60 138.92,200.78 139.50,201.10 C140.08,201.42 140.58,201.57 141.00,203.00 C141.42,204.43 141.47,207.13 142.00,209.70 C142.53,212.27 143.47,215.67 144.20,218.40 C144.93,221.13 145.67,223.73 146.40,226.10 C147.13,228.47 147.87,229.87 148.60,232.60 C149.33,235.33 150.07,239.03 150.80,242.50 C151.53,245.97 152.28,249.77 153.00,253.40 C153.72,257.03 154.38,260.30 155.10,264.30 C155.82,268.30 156.57,274.12 157.30,277.40 C158.03,280.68 158.58,282.17 159.50,284.00 C160.42,285.83 161.70,286.77 162.80,288.40 C163.90,290.03 165.02,291.98 166.10,293.80 C167.18,295.62 168.40,297.83 169.30,299.30 C170.20,300.77 170.58,302.60 171.50,302.60 C172.42,302.60 173.70,300.22 174.80,299.30 C175.90,298.38 177.00,298.20 178.10,297.10 C179.20,296.00 180.32,293.87 181.40,292.70 C182.48,291.53 183.52,290.28 184.60,290.10 C185.68,289.92 186.62,291.23 187.90,291.60 C189.18,291.97 190.83,292.65 192.30,292.30 C193.77,291.95 195.42,290.70 196.70,289.50 C197.98,288.30 199.12,286.55 200.00,285.10 C200.88,283.65 201.40,283.53 202.00,280.80 C202.60,278.07 203.08,272.40 203.60,268.70 C204.12,265.00 204.52,262.65 205.10,258.60 C205.68,254.55 206.43,248.10 207.10,244.40 C207.77,240.70 208.43,238.75 209.10,236.40 C209.77,234.05 210.43,232.33 211.10,230.30 C211.77,228.27 212.42,225.78 213.10,224.20 C213.78,222.62 214.42,221.53 215.20,220.80 C215.98,220.07 217.03,219.57 217.80,219.80 C218.57,220.03 219.13,220.45 219.80,222.20 C220.47,223.95 221.13,227.27 221.80,230.30 C222.47,233.33 223.22,237.03 223.80,240.40 C224.38,243.77 224.82,247.13 225.30,250.50 C225.78,253.87 226.03,257.57 226.70,260.60 C227.37,263.63 228.37,266.00 229.30,268.70 C230.23,271.40 231.28,274.12 232.30,276.80 C233.32,279.48 234.55,282.78 235.40,284.80 C236.25,286.82 236.57,286.53 237.40,288.90 C238.23,291.27 239.40,296.32 240.40,299.00 C241.40,301.68 242.38,303.32 243.40,305.00 C244.42,306.68 245.48,308.25 246.50,309.10 C247.52,309.95 248.50,310.27 249.50,310.10 C250.50,309.93 251.32,308.77 252.50,308.10 C253.68,307.43 255.25,306.78 256.60,306.10 C257.95,305.42 259.27,304.85 260.60,304.00 C261.93,303.15 263.35,302.50 264.60,301.00 C265.85,299.50 267.02,296.68 268.10,295.00 C269.18,293.32 270.17,292.18 271.10,290.90 C272.03,289.62 272.85,287.47 273.70,287.30 C274.55,287.13 275.28,289.30 276.20,289.90 C277.12,290.50 278.20,291.07 279.20,290.90 C280.20,290.73 281.18,290.25 282.20,288.90 C283.22,287.55 284.45,284.65 285.30,282.80 C286.15,280.95 286.47,279.15 287.30,277.80 C288.13,276.45 289.47,275.55 290.30,274.70 C291.13,273.85 291.68,273.70 292.30,272.70 C292.92,271.70 293.48,270.38 294.00,268.70 C294.52,267.02 294.90,264.97 295.40,262.60 C295.90,260.23 296.50,256.85 297.00,254.50 C297.50,252.15 297.83,250.52 298.40,248.50 C298.97,246.48 299.80,244.25 300.40,242.40 C301.00,240.55 301.50,239.08 302.00,237.40 C302.50,235.72 302.82,233.55 303.40,232.30 C303.98,231.05 304.82,230.73 305.50,229.90 C306.18,229.07 307.00,228.42 307.50,227.30 C308.00,226.18 308.07,224.38 308.50,223.20 C308.93,222.02 309.50,220.87 310.10,220.20 C310.70,219.53 311.43,219.13 312.10,219.20 C312.77,219.27 313.77,220.37 314.10,220.60" fill="none" stroke="url(#gl)" stroke-width="3.2" stroke-linejoin="round" stroke-linecap="round"/>
<text x="332.00" y="158.10" font-size="11" fill="#484848" stroke="#484848" stroke-width="0.1" textLength="21.20" lengthAdjust="spacingAndGlyphs">Gold</text>
<line x1="327.7" y1="169.3" x2="570.3" y2="169.3" stroke="#5a5249" stroke-width="1" stroke-dasharray="4.3 3.74"/>
<line x1="327.7" y1="243.4" x2="570.3" y2="243.4" stroke="#5a5249" stroke-width="1" stroke-dasharray="4.3 3.74"/>
<line x1="327.7" y1="317.4" x2="570.3" y2="317.4" stroke="#5a5249" stroke-width="1" stroke-dasharray="4.3 3.74"/>
<line x1="328.0" y1="324.4" x2="570.0" y2="324.4" stroke="#5a5450" stroke-width="1.1"/>
<line x1="338.7" y1="324.4" x2="338.7" y2="326.9" stroke="#5a5450" stroke-width="0.8"/>
<text x="328.10" y="335.30" font-size="8.6" fill="#444" stroke="#444" stroke-width="0.15" textLength="21.40" lengthAdjust="spacingAndGlyphs">2019</text>
<line x1="378.4" y1="324.4" x2="378.4" y2="326.9" stroke="#5a5450" stroke-width="0.8"/>
<text x="367.80" y="335.30" font-size="8.6" fill="#444" stroke="#444" stroke-width="0.15" textLength="21.40" lengthAdjust="spacingAndGlyphs">2020</text>
<line x1="418.1" y1="324.4" x2="418.1" y2="326.9" stroke="#5a5450" stroke-width="0.8"/>
<text x="407.50" y="335.30" font-size="8.6" fill="#444" stroke="#444" stroke-width="0.15" textLength="21.40" lengthAdjust="spacingAndGlyphs">2021</text>
<line x1="457.8" y1="324.4" x2="457.8" y2="326.9" stroke="#5a5450" stroke-width="0.8"/>
<text x="447.20" y="335.30" font-size="8.6" fill="#444" stroke="#444" stroke-width="0.15" textLength="21.40" lengthAdjust="spacingAndGlyphs">2022</text>
<line x1="497.5" y1="324.4" x2="497.5" y2="326.9" stroke="#5a5450" stroke-width="0.8"/>
<text x="486.90" y="335.30" font-size="8.6" fill="#444" stroke="#444" stroke-width="0.15" textLength="21.40" lengthAdjust="spacingAndGlyphs">2023</text>
<line x1="537.2" y1="324.4" x2="537.2" y2="326.9" stroke="#5a5450" stroke-width="0.8"/>
<text x="526.60" y="335.30" font-size="8.6" fill="#444" stroke="#444" stroke-width="0.15" textLength="21.40" lengthAdjust="spacingAndGlyphs">2024</text>
<path d="M338.90,200.00 C339.27,200.47 340.48,201.10 341.10,202.80 C341.72,204.50 342.05,207.12 342.60,210.20 C343.15,213.28 343.78,217.60 344.40,221.30 C345.02,225.00 345.77,229.00 346.30,232.40 C346.83,235.80 347.08,238.92 347.60,241.70 C348.12,244.48 348.78,246.63 349.40,249.10 C350.02,251.57 350.77,253.42 351.30,256.50 C351.83,259.58 352.13,264.20 352.60,267.60 C353.07,271.00 353.55,275.67 354.10,276.90 C354.65,278.13 355.43,276.87 355.90,275.00 C356.37,273.13 356.58,269.40 356.90,265.70 C357.22,262.00 357.50,257.73 357.80,252.80 C358.10,247.87 358.33,241.05 358.70,236.10 C359.07,231.15 359.47,227.42 360.00,223.10 C360.53,218.78 361.28,214.20 361.90,210.20 C362.52,206.20 363.00,202.18 363.70,199.10 C364.40,196.02 365.23,193.40 366.10,191.70 C366.97,190.00 367.97,189.68 368.90,188.90 C369.83,188.12 370.83,187.62 371.70,187.00 C372.57,186.38 373.33,185.03 374.10,185.20 C374.87,185.37 375.57,186.92 376.30,188.00 C377.03,189.08 377.73,190.47 378.50,191.70 C379.27,192.93 380.03,194.48 380.90,195.40 C381.77,196.32 382.92,196.28 383.70,197.20 C384.48,198.12 384.98,199.05 385.60,200.90 C386.22,202.75 386.78,205.22 387.40,208.30 C388.02,211.38 388.75,215.68 389.30,219.40 C389.85,223.12 390.33,226.58 390.70,230.60 C391.07,234.62 391.28,239.80 391.50,243.50 C391.72,247.20 391.60,250.48 392.00,252.80 C392.40,255.12 393.18,256.32 393.90,257.40 C394.62,258.48 395.55,260.92 396.30,259.30 C397.05,257.68 397.78,251.52 398.40,247.70 C399.02,243.88 399.43,240.93 400.00,236.40 C400.57,231.87 401.20,225.82 401.80,220.50 C402.40,215.18 402.92,209.05 403.60,204.50 C404.28,199.95 405.13,195.85 405.90,193.20 C406.67,190.55 407.37,189.73 408.20,188.60 C409.03,187.47 410.07,186.85 410.90,186.40 C411.73,185.95 412.52,184.77 413.20,185.90 C413.88,187.03 414.32,190.47 415.00,193.20 C415.68,195.93 416.47,199.47 417.30,202.30 C418.13,205.13 419.17,207.75 420.00,210.20 C420.83,212.65 421.62,214.53 422.30,217.00 C422.98,219.47 423.53,221.77 424.10,225.00 C424.67,228.23 425.25,232.98 425.70,236.40 C426.15,239.82 426.32,242.10 426.80,245.50 C427.28,248.90 428.03,253.40 428.60,256.80 C429.17,260.20 429.55,262.87 430.20,265.90 C430.85,268.93 431.62,271.97 432.50,275.00 C433.38,278.03 434.63,281.07 435.50,284.10 C436.37,287.13 436.95,290.55 437.70,293.20 C438.45,295.85 439.17,298.68 440.00,300.00 C440.83,301.32 441.68,301.28 442.70,301.10 C443.72,300.92 444.97,300.03 446.10,298.90 C447.23,297.77 448.55,296.20 449.50,294.30 C450.45,292.40 451.12,289.97 451.80,287.50 C452.48,285.03 453.07,281.32 453.60,279.50 C454.13,277.68 454.28,277.55 455.00,276.60 C455.72,275.65 456.93,274.92 457.90,273.80 C458.87,272.68 459.83,270.87 460.80,269.90 C461.77,268.93 462.88,268.65 463.70,268.00 C464.52,267.35 465.05,266.65 465.70,266.00 C466.35,265.35 466.80,264.75 467.60,264.10 C468.40,263.45 469.53,262.75 470.50,262.10 C471.47,261.45 472.43,260.83 473.40,260.20 C474.37,259.57 475.50,258.95 476.30,258.30 C477.10,257.65 477.72,257.92 478.20,256.30 C478.68,254.68 478.87,251.18 479.20,248.60 C479.53,246.02 479.72,243.38 480.20,240.80 C480.68,238.22 481.47,235.68 482.10,233.10 C482.73,230.52 483.35,227.88 484.00,225.30 C484.65,222.72 485.35,220.17 486.00,217.60 C486.65,215.03 487.25,212.48 487.90,209.90 C488.55,207.32 489.25,204.68 489.90,202.10 C490.55,199.52 491.17,196.33 491.80,194.40 C492.43,192.47 492.90,191.73 493.70,190.50 C494.50,189.27 495.68,187.38 496.60,187.00 C497.52,186.62 498.38,187.62 499.20,188.20 C500.02,188.78 500.73,189.95 501.50,190.50 C502.27,191.05 503.10,190.85 503.80,191.50 C504.50,192.15 504.95,193.12 505.70,194.40 C506.45,195.68 507.55,198.08 508.30,199.20 C509.05,200.32 509.67,201.42 510.20,201.10 C510.73,200.78 511.02,198.75 511.50,197.30 C511.98,195.85 512.52,193.85 513.10,192.40 C513.68,190.95 514.20,189.50 515.00,188.60 C515.80,187.70 516.93,187.40 517.90,187.00 C518.87,186.60 519.83,186.42 520.80,186.20 C521.77,185.98 522.73,185.78 523.70,185.70 C524.67,185.62 525.62,185.70 526.60,185.70 C527.58,185.70 528.78,185.55 529.60,185.70 C530.42,185.85 530.87,185.97 531.50,186.60 C532.13,187.23 532.67,188.68 533.40,189.50 C534.13,190.32 535.08,191.02 535.90,191.50 C536.72,191.98 537.42,192.08 538.30,192.40 C539.18,192.72 540.40,193.23 541.20,193.40 C542.00,193.57 542.55,193.88 543.10,193.40 C543.65,192.92 544.18,191.63 544.50,190.50 C544.82,189.37 544.75,187.73 545.00,186.60 C545.25,185.47 545.50,184.67 546.00,183.70 C546.50,182.73 547.18,181.60 548.00,180.80 C548.82,180.00 549.93,179.38 550.90,178.90 C551.87,178.42 552.93,178.23 553.80,177.90 C554.67,177.57 555.30,177.00 556.10,176.90 C556.90,176.80 558.18,177.23 558.60,177.30" fill="none" stroke="url(#gr)" stroke-width="3.2" stroke-linejoin="round" stroke-linecap="round"/>
<text x="86.50" y="353.00" font-size="11" fill="#484848" stroke="#484848" stroke-width="0.1" textLength="41.80" lengthAdjust="spacingAndGlyphs">NASDAQ</text>
<line x1="81.8" y1="364.2" x2="324.8" y2="364.2" stroke="#5a5249" stroke-width="1" stroke-dasharray="4.3 3.74"/>
<line x1="81.8" y1="438.2" x2="324.8" y2="438.2" stroke="#5a5249" stroke-width="1" stroke-dasharray="4.3 3.74"/>
<line x1="81.8" y1="512.3" x2="324.8" y2="512.3" stroke="#5a5249" stroke-width="1" stroke-dasharray="4.3 3.74"/>
<line x1="82.5" y1="519.3" x2="323.7" y2="519.3" stroke="#5a5450" stroke-width="1.1"/>
<line x1="93.4" y1="519.3" x2="93.4" y2="521.8" stroke="#5a5450" stroke-width="0.8"/>
<text x="82.80" y="530.20" font-size="8.6" fill="#444" stroke="#444" stroke-width="0.15" textLength="21.40" lengthAdjust="spacingAndGlyphs">2019</text>
<line x1="133.0" y1="519.3" x2="133.0" y2="521.8" stroke="#5a5450" stroke-width="0.8"/>
<text x="122.40" y="530.20" font-size="8.6" fill="#444" stroke="#444" stroke-width="0.15" textLength="21.40" lengthAdjust="spacingAndGlyphs">2020</text>
<line x1="172.6" y1="519.3" x2="172.6" y2="521.8" stroke="#5a5450" stroke-width="0.8"/>
<text x="162.00" y="530.20" font-size="8.6" fill="#444" stroke="#444" stroke-width="0.15" textLength="21.40" lengthAdjust="spacingAndGlyphs">2021</text>
<line x1="212.2" y1="519.3" x2="212.2" y2="521.8" stroke="#5a5450" stroke-width="0.8"/>
<text x="201.60" y="530.20" font-size="8.6" fill="#444" stroke="#444" stroke-width="0.15" textLength="21.40" lengthAdjust="spacingAndGlyphs">2022</text>
<line x1="251.8" y1="519.3" x2="251.8" y2="521.8" stroke="#5a5450" stroke-width="0.8"/>
<text x="241.20" y="530.20" font-size="8.6" fill="#444" stroke="#444" stroke-width="0.15" textLength="21.40" lengthAdjust="spacingAndGlyphs">2023</text>
<line x1="291.4" y1="519.3" x2="291.4" y2="521.8" stroke="#5a5450" stroke-width="0.8"/>
<text x="280.80" y="530.20" font-size="8.6" fill="#444" stroke="#444" stroke-width="0.15" textLength="21.40" lengthAdjust="spacingAndGlyphs">2024</text>
<text x="78.5" y="367.8" font-size="9" fill="#444" stroke="#444" stroke-width="0.2" text-anchor="end">1</text>
<text x="78.5" y="441.9" font-size="9" fill="#444" stroke="#444" stroke-width="0.2" text-anchor="end">0</text>
<text x="78.5" y="515.9" font-size="9" fill="#444" stroke="#444" stroke-width="0.2" text-anchor="end">-1</text>
<text transform="translate(74.60,402.45) rotate(-90)" font-size="10" fill="#444" stroke="#444" stroke-width="0.15" text-anchor="middle" textLength="58.70" lengthAdjust="spacingAndGlyphs">Trends in the</text>
<text transform="translate(86.00,402.40) rotate(-90)" font-size="10" fill="#444" stroke="#444" stroke-width="0.15" text-anchor="middle" textLength="65.00" lengthAdjust="spacingAndGlyphs">same direction</text>
<text transform="translate(74.60,477.75) rotate(-90)" font-size="10" fill="#444" stroke="#444" stroke-width="0.15" text-anchor="middle" textLength="58.10" lengthAdjust="spacingAndGlyphs">Trends in the</text>
<text transform="translate(86.20,478.10) rotate(-90)" font-size="10" fill="#444" stroke="#444" stroke-width="0.15" text-anchor="middle" textLength="65.00" lengthAdjust="spacingAndGlyphs">other direction</text>
<path d="M93.10,446.70 C93.22,445.72 93.60,442.90 93.80,440.80 C94.00,438.70 94.03,436.20 94.30,434.10 C94.57,432.00 94.85,429.75 95.40,428.20 C95.95,426.65 96.87,425.93 97.60,424.80 C98.33,423.67 99.23,422.23 99.80,421.40 C100.37,420.57 100.52,419.65 101.00,419.80 C101.48,419.95 102.00,422.30 102.70,422.30 C103.40,422.30 104.57,421.20 105.20,419.80 C105.83,418.40 106.13,416.02 106.50,413.90 C106.87,411.78 107.05,409.22 107.40,407.10 C107.75,404.98 108.12,402.53 108.60,401.20 C109.08,399.87 109.75,399.93 110.30,399.10 C110.85,398.27 111.35,397.25 111.90,396.20 C112.45,395.15 113.03,393.92 113.60,392.80 C114.17,391.68 114.73,390.20 115.30,389.50 C115.87,388.80 116.30,389.03 117.00,388.60 C117.70,388.17 118.67,387.45 119.50,386.90 C120.33,386.35 121.02,385.72 122.00,385.30 C122.98,384.88 124.42,384.60 125.40,384.40 C126.38,384.20 127.28,383.82 127.90,384.10 C128.52,384.38 128.67,384.78 129.10,386.10 C129.53,387.42 130.00,389.90 130.50,392.00 C131.00,394.10 131.48,396.45 132.10,398.70 C132.72,400.95 133.50,403.25 134.20,405.50 C134.90,407.75 135.52,410.38 136.30,412.20 C137.08,414.02 138.05,414.58 138.90,416.40 C139.75,418.22 140.57,421.00 141.40,423.10 C142.23,425.20 143.20,427.17 143.90,429.00 C144.60,430.83 144.98,432.55 145.60,434.10 C146.22,435.65 146.90,437.68 147.60,438.30 C148.30,438.92 149.15,438.50 149.80,437.80 C150.45,437.10 150.93,435.85 151.50,434.10 C152.07,432.35 152.63,429.55 153.20,427.30 C153.77,425.05 154.35,423.68 154.90,420.60 C155.45,417.52 156.03,412.73 156.50,408.80 C156.97,404.87 157.27,400.92 157.70,397.00 C158.13,393.08 158.58,388.38 159.10,385.30 C159.62,382.22 160.18,380.18 160.80,378.50 C161.42,376.82 162.18,376.08 162.80,375.20 C163.42,374.32 163.95,373.67 164.50,373.20 C165.05,372.73 165.47,372.20 166.10,372.40 C166.73,372.60 167.55,373.73 168.30,374.40 C169.05,375.07 169.83,375.38 170.60,376.40 C171.37,377.42 172.13,379.45 172.90,380.50 C173.67,381.55 174.32,382.58 175.20,382.70 C176.08,382.82 177.20,381.20 178.20,381.20 C179.20,381.20 180.20,382.95 181.20,382.70 C182.20,382.45 183.18,380.83 184.20,379.70 C185.22,378.57 186.28,376.72 187.30,375.90 C188.32,375.08 189.42,374.55 190.30,374.80 C191.18,375.05 191.90,376.08 192.60,377.40 C193.30,378.72 193.87,381.05 194.50,382.70 C195.13,384.35 195.63,386.03 196.40,387.30 C197.17,388.57 198.30,389.17 199.10,390.30 C199.90,391.43 200.52,392.72 201.20,394.10 C201.88,395.48 202.48,397.47 203.20,398.60 C203.92,399.73 204.67,399.88 205.50,400.90 C206.33,401.92 207.45,403.18 208.20,404.70 C208.95,406.22 209.45,408.10 210.00,410.00 C210.55,411.90 210.95,413.83 211.50,416.10 C212.05,418.37 212.67,421.20 213.30,423.60 C213.93,426.00 214.72,428.98 215.30,430.50 C215.88,432.02 216.30,432.70 216.80,432.70 C217.30,432.70 217.80,432.02 218.30,430.50 C218.80,428.98 219.28,425.75 219.80,423.60 C220.32,421.45 220.82,419.87 221.40,417.60 C221.98,415.33 222.67,413.03 223.30,410.00 C223.93,406.97 224.63,402.93 225.20,399.40 C225.77,395.87 226.08,391.33 226.70,388.80 C227.32,386.27 228.15,385.85 228.90,384.20 C229.65,382.55 230.43,380.53 231.20,378.90 C231.97,377.27 232.73,375.40 233.50,374.40 C234.27,373.40 235.08,373.18 235.80,372.90 C236.52,372.62 236.98,372.92 237.80,372.70 C238.62,372.48 239.75,371.95 240.70,371.60 C241.65,371.25 242.57,370.83 243.50,370.60 C244.43,370.37 245.35,370.13 246.30,370.20 C247.25,370.27 248.25,370.77 249.20,371.00 C250.15,371.23 251.07,371.43 252.00,371.60 C252.93,371.77 253.85,371.68 254.80,372.00 C255.75,372.32 256.87,372.78 257.70,373.50 C258.53,374.22 259.10,375.02 259.80,376.30 C260.50,377.58 261.32,379.67 261.90,381.20 C262.48,382.73 262.83,384.20 263.30,385.50 C263.77,386.80 264.22,388.77 264.70,389.00 C265.18,389.23 265.72,387.95 266.20,386.90 C266.68,385.85 267.02,383.88 267.60,382.70 C268.18,381.52 269.00,380.63 269.70,379.80 C270.40,378.97 270.97,378.40 271.80,377.70 C272.63,377.00 273.75,376.00 274.70,375.60 C275.65,375.20 276.57,375.18 277.50,375.30 C278.43,375.42 279.35,375.90 280.30,376.30 C281.25,376.70 282.25,377.23 283.20,377.70 C284.15,378.17 285.07,378.63 286.00,379.10 C286.93,379.57 287.85,380.10 288.80,380.50 C289.75,380.90 290.75,381.38 291.70,381.50 C292.65,381.62 293.57,381.53 294.50,381.20 C295.43,380.87 296.35,380.08 297.30,379.50 C298.25,378.92 299.37,378.35 300.20,377.70 C301.03,377.05 301.60,376.43 302.30,375.60 C303.00,374.77 303.70,373.60 304.40,372.70 C305.10,371.80 305.78,370.78 306.50,370.20 C307.22,369.62 307.98,369.13 308.70,369.20 C309.42,369.27 310.15,370.02 310.80,370.60 C311.45,371.18 312.13,372.22 312.60,372.70 C313.07,373.18 313.43,373.37 313.60,373.50" fill="none" stroke="url(#gl)" stroke-width="3.2" stroke-linejoin="round" stroke-linecap="round"/>
<text x="332.00" y="353.00" font-size="11" fill="#484848" stroke="#484848" stroke-width="0.1" textLength="115.00" lengthAdjust="spacingAndGlyphs">US Treasury 10-year yield</text>
<line x1="327.7" y1="364.2" x2="570.3" y2="364.2" stroke="#5a5249" stroke-width="1" stroke-dasharray="4.3 3.74"/>
<line x1="327.7" y1="438.2" x2="570.3" y2="438.2" stroke="#5a5249" stroke-width="1" stroke-dasharray="4.3 3.74"/>
<line x1="327.7" y1="512.3" x2="570.3" y2="512.3" stroke="#5a5249" stroke-width="1" stroke-dasharray="4.3 3.74"/>
<line x1="328.0" y1="519.3" x2="570.0" y2="519.3" stroke="#5a5450" stroke-width="1.1"/>
<line x1="338.7" y1="519.3" x2="338.7" y2="521.8" stroke="#5a5450" stroke-width="0.8"/>
<text x="328.10" y="530.20" font-size="8.6" fill="#444" stroke="#444" stroke-width="0.15" textLength="21.40" lengthAdjust="spacingAndGlyphs">2019</text>
<line x1="378.4" y1="519.3" x2="378.4" y2="521.8" stroke="#5a5450" stroke-width="0.8"/>
<text x="367.80" y="530.20" font-size="8.6" fill="#444" stroke="#444" stroke-width="0.15" textLength="21.40" lengthAdjust="spacingAndGlyphs">2020</text>
<line x1="418.1" y1="519.3" x2="418.1" y2="521.8" stroke="#5a5450" stroke-width="0.8"/>
<text x="407.50" y="530.20" font-size="8.6" fill="#444" stroke="#444" stroke-width="0.15" textLength="21.40" lengthAdjust="spacingAndGlyphs">2021</text>
<line x1="457.8" y1="519.3" x2="457.8" y2="521.8" stroke="#5a5450" stroke-width="0.8"/>
<text x="447.20" y="530.20" font-size="8.6" fill="#444" stroke="#444" stroke-width="0.15" textLength="21.40" lengthAdjust="spacingAndGlyphs">2022</text>
<line x1="497.5" y1="519.3" x2="497.5" y2="521.8" stroke="#5a5450" stroke-width="0.8"/>
<text x="486.90" y="530.20" font-size="8.6" fill="#444" stroke="#444" stroke-width="0.15" textLength="21.40" lengthAdjust="spacingAndGlyphs">2023</text>
<line x1="537.2" y1="519.3" x2="537.2" y2="521.8" stroke="#5a5450" stroke-width="0.8"/>
<text x="526.60" y="530.20" font-size="8.6" fill="#444" stroke="#444" stroke-width="0.15" textLength="21.40" lengthAdjust="spacingAndGlyphs">2024</text>
<path d="M338.70,489.70 C338.93,487.28 339.68,480.20 340.10,475.20 C340.52,470.20 340.85,464.87 341.20,459.70 C341.55,454.53 341.87,449.37 342.20,444.20 C342.53,439.03 342.92,432.90 343.20,428.70 C343.48,424.50 343.52,421.58 343.90,419.00 C344.28,416.42 344.98,415.28 345.50,413.20 C346.02,411.12 346.52,408.75 347.00,406.50 C347.48,404.25 347.85,401.22 348.40,399.70 C348.95,398.18 349.55,397.88 350.30,397.40 C351.05,396.92 352.25,396.10 352.90,396.80 C353.55,397.50 353.82,398.87 354.20,401.60 C354.58,404.33 354.88,408.68 355.20,413.20 C355.52,417.72 355.78,423.85 356.10,428.70 C356.42,433.55 356.77,437.78 357.10,442.30 C357.43,446.82 357.72,452.08 358.10,455.80 C358.48,459.52 358.85,462.02 359.40,464.60 C359.95,467.18 360.75,468.88 361.40,471.30 C362.05,473.72 362.67,476.52 363.30,479.10 C363.93,481.68 364.45,484.87 365.20,486.80 C365.95,488.73 366.88,489.88 367.80,490.70 C368.72,491.52 369.73,490.73 370.70,491.70 C371.67,492.67 372.63,495.12 373.60,496.50 C374.57,497.88 375.53,499.68 376.50,500.00 C377.47,500.32 378.43,499.05 379.40,498.40 C380.37,497.75 381.40,497.07 382.30,496.10 C383.20,495.13 384.15,494.78 384.80,492.60 C385.45,490.42 385.82,486.55 386.20,483.00 C386.58,479.45 386.72,475.50 387.10,471.30 C387.48,467.10 388.02,462.32 388.50,457.80 C388.98,453.28 389.48,448.40 390.00,444.20 C390.52,440.00 391.02,436.15 391.60,432.60 C392.18,429.05 392.85,425.48 393.50,422.90 C394.15,420.32 394.63,418.32 395.50,417.10 C396.37,415.88 397.83,415.60 398.70,415.60 C399.57,415.60 400.15,415.25 400.70,417.10 C401.25,418.95 401.62,423.08 402.00,426.70 C402.38,430.32 402.48,434.77 403.00,438.80 C403.52,442.83 404.42,447.53 405.10,450.90 C405.78,454.27 406.33,456.47 407.10,459.00 C407.87,461.53 408.87,465.43 409.70,466.10 C410.53,466.77 411.18,464.52 412.10,463.00 C413.02,461.48 414.25,459.35 415.20,457.00 C416.15,454.65 417.13,451.60 417.80,448.90 C418.47,446.20 418.80,443.50 419.20,440.80 C419.60,438.10 419.87,435.73 420.20,432.70 C420.53,429.67 420.87,425.97 421.20,422.60 C421.53,419.23 421.77,416.20 422.20,412.50 C422.63,408.80 423.40,404.43 423.80,400.40 C424.20,396.37 424.25,392.33 424.60,388.30 C424.95,384.27 425.45,379.40 425.90,376.20 C426.35,373.00 426.73,370.78 427.30,369.10 C427.87,367.42 428.47,366.67 429.30,366.10 C430.13,365.53 431.12,365.53 432.30,365.70 C433.48,365.87 435.05,366.53 436.40,367.10 C437.75,367.67 439.07,368.43 440.40,369.10 C441.73,369.77 443.05,370.43 444.40,371.10 C445.75,371.77 447.32,372.42 448.50,373.10 C449.68,373.78 450.50,374.35 451.50,375.20 C452.50,376.05 453.58,377.20 454.50,378.20 C455.42,379.20 456.32,379.85 457.00,381.20 C457.68,382.55 458.17,384.12 458.60,386.30 C459.03,388.48 459.27,391.28 459.60,394.30 C459.93,397.32 460.17,401.03 460.60,404.40 C461.03,407.77 461.67,410.65 462.20,414.50 C462.73,418.35 463.10,424.02 463.80,427.50 C464.50,430.98 465.62,433.42 466.40,435.40 C467.18,437.38 467.82,437.83 468.50,439.40 C469.18,440.97 469.95,442.78 470.50,444.80 C471.05,446.82 471.35,449.03 471.80,451.50 C472.25,453.97 472.68,456.90 473.20,459.60 C473.72,462.30 474.35,465.00 474.90,467.70 C475.45,470.40 475.88,473.10 476.50,475.80 C477.12,478.50 477.92,481.28 478.60,483.90 C479.28,486.52 479.82,489.35 480.60,491.50 C481.38,493.65 482.18,495.33 483.30,496.80 C484.42,498.27 485.95,499.40 487.30,500.30 C488.65,501.20 490.20,501.85 491.40,502.20 C492.60,502.55 493.48,502.52 494.50,502.40 C495.52,502.28 496.42,502.00 497.50,501.50 C498.58,501.00 499.93,500.23 501.00,499.40 C502.07,498.57 502.93,497.95 503.90,496.50 C504.87,495.05 506.00,492.63 506.80,490.70 C507.60,488.77 508.05,487.17 508.70,484.90 C509.35,482.63 510.05,479.68 510.70,477.10 C511.35,474.52 511.97,472.30 512.60,469.40 C513.23,466.50 513.85,463.25 514.50,459.70 C515.15,456.15 515.85,451.48 516.50,448.10 C517.15,444.72 517.70,441.33 518.40,439.40 C519.10,437.47 519.88,437.80 520.70,436.50 C521.52,435.20 522.55,432.73 523.30,431.60 C524.05,430.47 524.57,429.85 525.20,429.70 C525.83,429.55 526.55,431.18 527.10,430.70 C527.65,430.22 528.02,429.38 528.50,426.80 C528.98,424.22 529.42,418.58 530.00,415.20 C530.58,411.82 531.28,408.70 532.00,406.50 C532.72,404.30 533.60,402.17 534.30,402.00 C535.00,401.83 535.62,403.95 536.20,405.50 C536.78,407.05 537.22,409.53 537.80,411.30 C538.38,413.07 538.90,414.82 539.70,416.10 C540.50,417.38 541.63,418.18 542.60,419.00 C543.57,419.82 544.68,421.00 545.50,421.00 C546.32,421.00 546.68,419.97 547.50,419.00 C548.32,418.03 549.60,415.83 550.40,415.20 C551.20,414.57 551.67,414.72 552.30,415.20 C552.93,415.68 553.55,416.97 554.20,418.10 C554.85,419.23 555.55,420.55 556.20,422.00 C556.85,423.45 557.55,425.35 558.10,426.80 C558.65,428.25 559.27,430.05 559.50,430.70" fill="none" stroke="url(#gr)" stroke-width="3.2" stroke-linejoin="round" stroke-linecap="round"/>
<text transform="translate(38.90,340.10) rotate(-90)" font-size="12.5" fill="#69645e" stroke="#69645e" stroke-width="0.08" text-anchor="middle" textLength="125.00" lengthAdjust="spacingAndGlyphs">Trend Similarity Score</text>
<text transform="translate(51.50,340.50) rotate(-90)" font-size="12.5" fill="#69645e" stroke="#69645e" stroke-width="0.08" text-anchor="middle" textLength="111.00" lengthAdjust="spacingAndGlyphs">(One Year Window)</text>
<text x="483.60" y="265.00" font-size="10.3" fill="#2a2a2a" stroke="#2a2a2a" stroke-width="0.2" textLength="94.80" lengthAdjust="spacingAndGlyphs">Since the bear market</text>
<text x="485.20" y="275.00" font-size="10.3" fill="#2a2a2a" stroke="#2a2a2a" stroke-width="0.2" textLength="91.60" lengthAdjust="spacingAndGlyphs">recovery, Bitcoin and</text>
<text x="486.40" y="284.30" font-size="10.3" fill="#2a2a2a" stroke="#2a2a2a" stroke-width="0.2" textLength="86.30" lengthAdjust="spacingAndGlyphs">gold are trending in</text>
<text x="490.50" y="294.00" font-size="10.3" fill="#2a2a2a" stroke="#2a2a2a" stroke-width="0.2" textLength="80.00" lengthAdjust="spacingAndGlyphs">the same direction</text>
<text x="181.25" y="463.80" font-size="10.3" fill="#2a2a2a" stroke="#2a2a2a" stroke-width="0.2" textLength="128.00" lengthAdjust="spacingAndGlyphs">Except for some uncorrelated</text>
<text x="196.25" y="474.30" font-size="10.3" fill="#2a2a2a" stroke="#2a2a2a" stroke-width="0.2" textLength="96.75" lengthAdjust="spacingAndGlyphs">periods here and there</text>
<text x="178.75" y="484.20" font-size="10.3" fill="#2a2a2a" stroke="#2a2a2a" stroke-width="0.2" textLength="132.50" lengthAdjust="spacingAndGlyphs">Bitcoin and the NASDAQ tend</text>
<text x="188.00" y="493.80" font-size="10.3" fill="#2a2a2a" stroke="#2a2a2a" stroke-width="0.2" textLength="115.00" lengthAdjust="spacingAndGlyphs">to go in the same direction</text>
<path d="M552.3,254.4 C553,243 555.5,234 559.5,226 C563.5,218 569,211 570.7,203 C572,197 566,193.8 558.6,193.4" fill="none" stroke="#222" stroke-width="1" marker-end="url(#ah)"/>
<path d="M282.2,454.5 C283,443 287,434 293,425 C299,416 306,410 308.6,401 C310,394.5 308,388.5 304.4,384.8" fill="none" stroke="#222" stroke-width="1" marker-end="url(#ah)"/>
<text x="30.10" y="561.70" font-size="7.8" fill="#4a4a4a" textLength="99.10" lengthAdjust="spacingAndGlyphs">Notes: created on July 24, 2024</text>
<text x="30.10" y="569.40" font-size="7.8" fill="#4a4a4a" textLength="71.40" lengthAdjust="spacingAndGlyphs">Source: Yahoo Finance</text>
<text x="30.10" y="577.00" font-size="7.8" fill="#4a4a4a" textLength="152.90" lengthAdjust="spacingAndGlyphs">By: @ecoinometrics, ecoinometrics.substack.com</text>
<text x="490.00" y="572.00" font-size="13.5" fill="#505050" stroke="#505050" stroke-width="0.1" textLength="79.70" lengthAdjust="spacingAndGlyphs">Ecoinometrics</text>
</svg>
</body></html>
